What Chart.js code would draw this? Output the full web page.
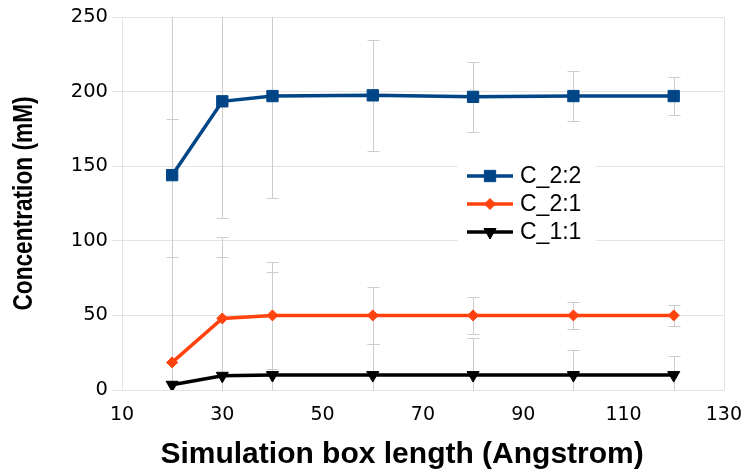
<!DOCTYPE html>
<html>
<head>
<meta charset="utf-8">
<script src="https://cdn.jsdelivr.net/npm/chart.js@4/dist/chart.umd.min.js"></script>
<style>
  body { margin: 0; background: #fff; }
  #wrap { width: 756px; height: 470px; }
</style>
</head>
<body>
<div id="wrap"><canvas id="theGraph"></canvas></div>
<script>
// box length (Angstrom)
var boxLength = [20, 30, 40, 60, 80, 100, 120];

var c22 = [144, 193.5, 197, 197.5, 196.5, 197, 197];
var c21 = [18.5, 48, 50, 50, 50, 50, 50];
var c11 = [3.5, 9.5, 10, 10, 10, 10, 10];

// error bar half widths
var c22Err = [126, 78.5, 68.5, 37, 23.5, 17, 12.5];
var c21Err = [70.5, 54.5, 36, 19, 12.5, 9, 7];
var c11Err = [178, 79.5, 69, 21, 25, 17, 13];

var seriesNames = ["C_2:2", "C_2:1", "C_1:1"];

var xTicks = [10, 30, 50, 70, 90, 110, 130];
var yTicks = [0, 50, 100, 150, 200, 250];

var xTitle = "Simulation box length (Angstrom)";
var yTitle = "Concentration (mM)";

var gridColor = "#e4e4e4";

function toPoints(values) {
    return values.map(function (v, i) { return { x: boxLength[i], y: v }; });
}

// light frame round the plot area
var plotFrame = {
    id: "plotFrame",
    beforeDatasetsDraw: function (chart) {
        var ctx = chart.ctx, a = chart.chartArea;
        ctx.save();
        ctx.strokeStyle = gridColor;
        ctx.lineWidth = 1;
        ctx.strokeRect(Math.round(a.left) + 0.5, Math.round(a.top) + 0.5,
            Math.round(a.width), Math.round(a.height));
        ctx.restore();
    }
};

var errorBars = {
    id: "errorBars",
    beforeDatasetsDraw: function (chart) {
        var ctx = chart.ctx, a = chart.chartArea;
        var xs = chart.scales.x, ys = chart.scales.y;
        ctx.save();
        ctx.beginPath();
        ctx.rect(a.left, a.top, a.width, a.height);
        ctx.clip();
        ctx.strokeStyle = "#cdcdcd";
        ctx.lineWidth = 1;
        chart.data.datasets.forEach(function (ds) {
            ds.data.forEach(function (p, j) {
                var px = Math.round(xs.getPixelForValue(p.x)) + 0.5;
                var top = Math.round(ys.getPixelForValue(p.y + ds.errors[j])) + 0.5;
                var bot = Math.round(ys.getPixelForValue(p.y - ds.errors[j])) + 0.5;
                ctx.beginPath();
                ctx.moveTo(px, top); ctx.lineTo(px, bot);
                ctx.moveTo(px - 6, top); ctx.lineTo(px + 6, top);
                ctx.moveTo(px - 6, bot); ctx.lineTo(px + 6, bot);
                ctx.stroke();
            });
        });
        ctx.restore();
    }
};

// legend sits inside the plot
var insideLegend = {
    id: "insideLegend",
    afterDatasetsDraw: function (chart) {
        var ctx = chart.ctx, a = chart.chartArea;
        var x0 = a.left + 336, y0 = a.top + 143;
        ctx.save();
        ctx.fillStyle = "#fff";
        ctx.fillRect(x0, y0, 138, 88);
        chart.data.datasets.forEach(function (ds, i) {
            var cy = y0 + 16 + i * 28;
            ctx.strokeStyle = ds.borderColor;
            ctx.lineWidth = ds.borderWidth;
            ctx.beginPath();
            ctx.moveTo(x0 + 9, cy);
            ctx.lineTo(x0 + 55, cy);
            ctx.stroke();
            ctx.fillStyle = ds.borderColor;
            ctx.lineWidth = 1;
            Chart.helpers.drawPoint(ctx, {
                pointStyle: ds.pointStyle,
                radius: ds.pointRadius,
                rotation: ds.pointRotation || 0,
                borderWidth: 1
            }, x0 + 32, cy);
            ctx.fillStyle = "#000";
            ctx.font = "23px 'Liberation Sans', Arial, sans-serif";
            ctx.textBaseline = "middle";
            ctx.textAlign = "left";
            ctx.fillText(ds.label, x0 + 62, cy + 1);
        });
        ctx.restore();
    }
};

// the y title in the original is a narrow bold face, so squeeze it
var narrowYTitle = {
    id: "narrowYTitle",
    afterDraw: function (chart) {
        var ctx = chart.ctx, a = chart.chartArea;
        ctx.save();
        ctx.translate(24, (a.top + a.bottom) / 2);
        ctx.rotate(-Math.PI / 2);
        ctx.scale(0.81, 1);
        ctx.font = "bold 28px 'Liberation Sans', Arial, sans-serif";
        ctx.fillStyle = "#000";
        ctx.textAlign = "center";
        ctx.textBaseline = "middle";
        ctx.fillText(yTitle, 0, 0);
        ctx.restore();
    }
};

var ctx = document.getElementById("theGraph").getContext("2d");
var theGraph = new Chart(ctx, {
    type: "line",
    data: {
        datasets: [{
            label: seriesNames[0],
            data: toPoints(c22),
            errors: c22Err,
            borderColor: "#004586",
            backgroundColor: "#004586",
            borderWidth: 3.5,
            pointStyle: "rect",
            pointRadius: 8,
            pointBorderWidth: 1
        }, {
            label: seriesNames[1],
            data: toPoints(c21),
            errors: c21Err,
            borderColor: "#ff420e",
            backgroundColor: "#ff420e",
            borderWidth: 3.5,
            pointStyle: "rectRot",
            pointRadius: 5.5,
            pointBorderWidth: 1
        }, {
            label: seriesNames[2],
            data: toPoints(c11),
            errors: c11Err,
            borderColor: "#000000",
            backgroundColor: "#000000",
            borderWidth: 3.5,
            pointStyle: "triangle",
            pointRotation: 180,
            pointRadius: 7,
            pointBorderWidth: 1
        }]
    },
    options: {
        responsive: true,
        maintainAspectRatio: false,
        animation: false,
        layout: { padding: { top: 17, right: 24, left: 0, bottom: 0 } },
        plugins: {
            legend: { display: false },
            tooltip: { enabled: false }
        },
        elements: { line: { tension: 0 } },
        scales: {
            x: {
                type: "linear",
                min: xTicks[0],
                max: xTicks[xTicks.length - 1],
                afterFit: function (scale) { scale.height = 80; },
                afterBuildTicks: function (scale) {
                    scale.ticks = xTicks.map(function (v) { return { value: v }; });
                },
                grid: { display: false, drawTicks: false },
                border: { color: gridColor },
                ticks: {
                    padding: 14,
                    color: "#000",
                    font: { family: "'DejaVu Sans'", size: 19 }
                },
                title: {
                    display: true,
                    // trailing spaces pull the centred title left, as in the original
                    text: xTitle + "     ",
                    color: "#000",
                    font: { family: "'Liberation Sans', Arial", size: 30, weight: "bold", lineHeight: 1 },
                    padding: { top: 0, bottom: 0 }
                }
            },
            y: {
                min: yTicks[0],
                max: yTicks[yTicks.length - 1],
                afterFit: function (scale) { scale.width = 122; },
                afterBuildTicks: function (scale) {
                    scale.ticks = yTicks.map(function (v) { return { value: v }; });
                },
                grid: { color: gridColor, tickColor: gridColor, tickLength: 10 },
                border: { color: gridColor },
                ticks: {
                    padding: 4,
                    color: "#000",
                    font: { family: "'DejaVu Sans'", size: 19.5 }
                },
                title: { display: false }
            }
        }
    },
    plugins: [plotFrame, errorBars, insideLegend, narrowYTitle]
});
</script>
</body>
</html>
